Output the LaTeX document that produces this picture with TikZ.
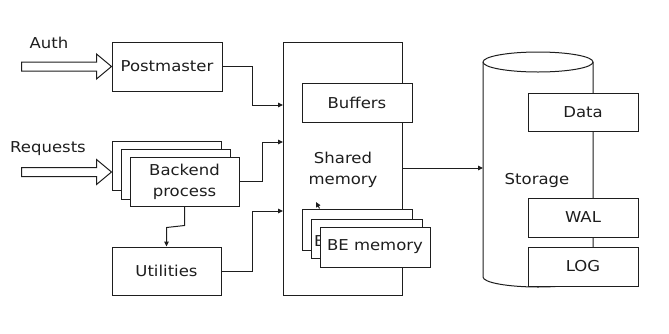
\documentclass[tikz,border=0pt]{standalone}
\usepackage{fontspec}
\setmainfont{DejaVu Sans}[FakeStretch=1.1]
\usetikzlibrary{arrows.meta,calc}
\definecolor{ink}{HTML}{1E1E1E}
\begin{document}
\begin{tikzpicture}[x=1pt,y=-1pt,
  every node/.style={font=\fontsize{15}{21}\selectfont, text=ink},
  box/.style={draw=ink, fill=white, line width=1pt, inner sep=0pt},
  label/.style={inner sep=0pt, align=center},
  wire/.style={draw=ink, line width=1pt},
  arr/.style={wire, -{Triangle[length=5pt,width=4.5pt]}},
  blockarrow/.style={draw=ink, fill=white, line width=1pt, line join=miter}]
\useasboundingbox (0,0) rectangle (669,333);

% --- client side -------------------------------------------------------
\node[box, minimum width=110pt, minimum height=49pt] (pm) at (167,66.5) {Postmaster};
\node[label] (auth) at (49,43) {Auth};

\node[box, minimum width=109pt, minimum height=49pt] (beA) at (166.5,165.5) {};
\node[box, minimum width=109pt, minimum height=50pt] (beB) at (175.5,174) {};
\node[box, minimum width=109pt, minimum height=49pt, align=center] (beC) at (184.5,181.5) {Backend\\process};
\node[label] (req) at (48,149) {Requests};

\node[box, minimum width=109pt, minimum height=48pt] (util) at (166.5,271) {Utilities};

% hollow input arrows
\draw[blockarrow] ($(pm.west)+(-90,-4.5)$) -- ($(pm.west)+(-15,-4.5)$) -- ($(pm.west)+(-15,-12.5)$)
  -- (pm.west) -- ($(pm.west)+(-15,12.5)$) -- ($(pm.west)+(-15,4.5)$) -- ($(pm.west)+(-90,4.5)$) -- cycle;
\draw[blockarrow] ($(beA.west |- 0,172)+(-90,-4.5)$) -- ($(beA.west |- 0,172)+(-15,-4.5)$) -- ($(beA.west |- 0,172)+(-15,-12.5)$)
  -- (beA.west |- 0,172) -- ($(beA.west |- 0,172)+(-15,12.5)$) -- ($(beA.west |- 0,172)+(-15,4.5)$) -- ($(beA.west |- 0,172)+(-90,4.5)$) -- cycle;

% --- shared memory -----------------------------------------------------
\node[box, minimum width=119pt, minimum height=253pt] (shm) at (342.5,168.5) {};
\node[box, minimum width=110pt, minimum height=39pt] (buf) at (357,102.5) {Buffers};
\node[label] (shmlabel) at (343,170) {Shared\\memory};

\node[box, minimum width=110pt, minimum height=41pt] (bmA) at (357,229.5) {};
\node[box, minimum width=111pt, minimum height=39pt] (bmB) at (366.5,238.5) {};
\node[label, anchor=west] (bmBtext) at (314,241) {B};
\node[box, minimum width=110pt, minimum height=40pt] (bmC) at (375,247) {BE memory};

% --- storage -----------------------------------------------------------
\coordinate (cylTL) at (483,62);
\coordinate (cylTR) at (593,62);
\coordinate (cylBL) at (483,277);
\coordinate (cylBR) at (593,277);
\draw[wire, fill=white] (cylTL) -- (cylBL) arc[start angle=180, end angle=360, x radius=55, y radius=-10]
  -- (cylTR) arc[start angle=0, end angle=180, x radius=55, y radius=-10] -- cycle;
\draw[wire] (cylTL) arc[start angle=180, end angle=360, x radius=55, y radius=-10];
\node[label] (stor) at (537,180) {Storage};

\node[box, minimum width=110pt, minimum height=38pt] (data) at (583,112) {Data};
\node[box, minimum width=110pt, minimum height=39pt] (wal) at (583,217.5) {WAL};
\node[box, minimum width=110pt, minimum height=39pt] (log) at (583,266.5) {LOG};

% --- connectors --------------------------------------------------------
\coordinate (inPM) at (283,105);
\coordinate (inBE) at (283,142);
\coordinate (inUT) at (283,211);
\draw[arr] (pm.east) -- ++(30,0) |- (inPM);
\draw[arr] (beC.east) -- ++(23,0) |- (inBE);
\draw[arr] (util.east) -- ++(31,0) |- (inUT);
\draw[arr] (beC.south) -- ++(0,19) -- ($(util.north)+(0,-19)$) -- (util.north);
\draw[arr] (shm.east |- 0,168) -- (cylTL |- 0,168);

\coordinate (bmtip) at (316,202);
\draw[arr] ($(bmA.north west)+(18,0)$) -- (bmtip);
\end{tikzpicture}
\end{document}
